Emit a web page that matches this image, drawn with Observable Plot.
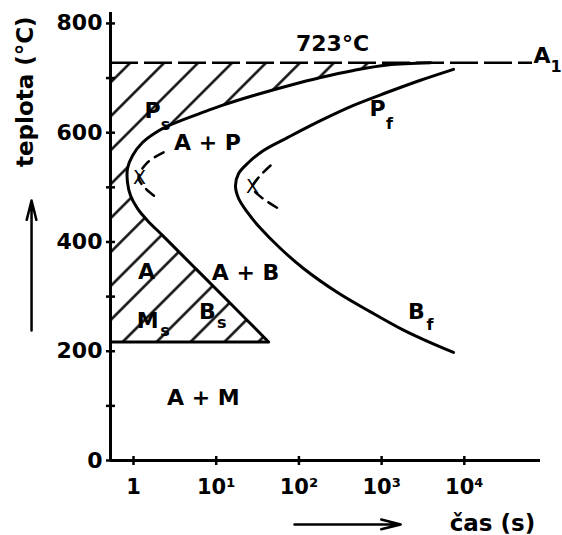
<!DOCTYPE html>
<html><head><meta charset="utf-8">
<script src="https://cdn.jsdelivr.net/npm/d3@7"></script>
<script src="https://cdn.jsdelivr.net/npm/@observablehq/plot@0.6"></script>
<style>body{margin:0;background:#fff}svg{display:block}</style>
</head><body><div id="chart"></div>
<script>
// ---- data (time in s, temperature in °C) ----
const XMIN = 0.527, XMAX = 83400, YMAX = 820;
const A1 = 728;          // eutectoid line (labelled 723 °C)
const A1_END = 66800;
const MS = 217;          // martensite start
const MS_END = 43;
const xTicks = [1, 10, 100, 1000, 10000];
const xTickLabels = ["1", "10¹", "10²", "10³", "10⁴"];
const yTicks = [0, 200, 400, 600, 800];
const yTickMarks = [0, 100, 200, 300, 400, 500, 600, 700, 800];

// transformation start curve (Ps / Bs), from the bottom tip up to A1
const startT = [43, 12.96, 5.17, 2.24, 1.48, 1.12, 0.92, 0.846, 0.846, 0.972, 1.285, 1.845, 2.96, 7.42, 11.3, 28.3, 72.8, 182.5, 457, 1178, 3900];
const startC = [217, 296.5, 357, 412, 439, 461, 485, 509, 534.5, 558, 582, 600, 616, 639, 649, 668, 685.5, 701, 714, 724, 728];
// transformation finish curve (Pf / Bf)
const endT = [7400, 2953, 1178, 457, 182.5, 72.8, 37.3, 24.6, 18.6, 17.1, 18.6, 23.9, 34.3, 59.9, 113.7, 293, 734, 1840, 3590, 7400];
const endC = [716, 696, 674, 650, 622, 591, 567.5, 545.5, 525, 503, 480, 454, 425, 388, 351.5, 307.5, 272, 238.5, 218, 197.7];
// 50 % transformation arcs
const halfLT = [2.31, 1.48, 1.15, 1.40, 1.95];
const halfLC = [564, 545.5, 518, 498, 480];
const halfRT = [45.4, 32.5, 27.5, 34.3, 56.7];
const halfRC = [540, 518, 500, 483, 461];

// labels (data coordinates)
const mainLabels = [
  {text: "723°C", t: 255, c: 763},
  {text: "A", t: 87000, c: 741},
  {text: "P", t: 1.70, c: 639},
  {text: "A + P", t: 7.85, c: 582},
  {text: "P", t: 891, c: 643},
  {text: "A", t: 1.44, c: 346},
  {text: "A + B", t: 22.6, c: 344},
  {text: "M", t: 1.48, c: 256},
  {text: "B", t: 7.85, c: 271},
  {text: "B", t: 2640, c: 271},
  {text: "A + M", t: 7.0, c: 115}
];
const subLabels = [
  {text: "1", t: 129000, c: 721},
  {text: "s", t: 2.44, c: 615},
  {text: "f", t: 1245, c: 617},
  {text: "s", t: 2.40, c: 238},
  {text: "s", t: 11.7, c: 251},
  {text: "f", t: 3850, c: 249}
];
const crossLabels = [{text: "X", t: 1.18, c: 518}, {text: "X", t: 27.5, c: 500}];
const yTitle = {text: "teplota (°C)", t: 0.0494, c: 675};
const xTitle = {text: "čas (s)", t: 21900, c: -115};
const yArrow = {t: 0.0585, c1: 238, c2: 476};
const xArrow = {c: -117, t1: 88.5, t2: 1700};

// ---- build tables ----
const zip = (T, C) => T.map((t, i) => ({t, c: C[i]}));
const start = zip(startT, startC);
const finish = zip(endT, endC);
const halfL = zip(halfLT, halfLC);
const halfR = zip(halfRT, halfRC);

const FONT = "DejaVu Sans";
const hLine = {draw(ctx, size) { const r = Math.sqrt(size / Math.PI); ctx.moveTo(-r, 0); ctx.lineTo(r, 0); }};
const vLine = {draw(ctx, size) { const r = Math.sqrt(size / Math.PI); ctx.moveTo(0, -r); ctx.lineTo(0, r); }};
const textOpts = {x: "t", y: "c", text: "text", fontFamily: FONT, fontWeight: "bold", fill: "#000"};

const svg = Plot.plot({
  width: 562, height: 535,
  marginLeft: 110, marginRight: 22, marginTop: 12, marginBottom: 75,
  x: {type: "log", domain: [XMIN, XMAX]},
  y: {domain: [0, YMAX]},
  style: {fontFamily: FONT, background: "#fff", overflow: "visible"},
  marks: [
    Plot.areaX(start, {x1: XMIN, x2: "t", y: "c", curve: "catmull-rom", fill: "url(#hatch)"}),
    Plot.ruleX([XMIN], {y1: 0, y2: YMAX, stroke: "#000", strokeWidth: 3}),
    Plot.ruleY([0], {x1: XMIN, x2: XMAX, stroke: "#000", strokeWidth: 3}),
    Plot.dot(yTickMarks, {x: () => XMIN, y: d => d, symbol: hLine, r: 4.5, stroke: "#000", strokeWidth: 2.5}),
    Plot.dot(xTicks, {x: d => d, y: () => 0, symbol: vLine, r: 4.5, stroke: "#000", strokeWidth: 2.5}),
    Plot.axisY(yTicks, {tickSize: 0, tickPadding: 8, fontSize: 22, fontWeight: "bold", fontFamily: FONT, label: null}),
    Plot.axisX(xTicks, {tickSize: 0, tickPadding: 19, fontSize: 21, fontWeight: "bold", fontFamily: FONT, label: null,
      tickFormat: d => xTickLabels[xTicks.indexOf(d)]}),
    Plot.ruleY([A1], {x1: XMIN, x2: A1_END, stroke: "#000", strokeWidth: 2.5, strokeDasharray: "28,6"}),
    Plot.ruleY([MS], {x1: XMIN, x2: MS_END, stroke: "#000", strokeWidth: 3}),
    Plot.line(start, {x: "t", y: "c", curve: "catmull-rom", stroke: "#000", strokeWidth: 3}),
    Plot.line(finish, {x: "t", y: "c", curve: "catmull-rom", stroke: "#000", strokeWidth: 3}),
    Plot.line(halfL, {x: "t", y: "c", curve: "catmull-rom", stroke: "#000", strokeWidth: 2.5, strokeDasharray: "10,7"}),
    Plot.line(halfR, {x: "t", y: "c", curve: "catmull-rom", stroke: "#000", strokeWidth: 2.5, strokeDasharray: "10,7"}),
    Plot.text(crossLabels, {...textOpts, fontWeight: "normal", fontSize: 19}),
    Plot.text(mainLabels, {...textOpts, fontSize: 22}),
    Plot.text(subLabels, {...textOpts, fontSize: 16}),
    Plot.text([yTitle], {...textOpts, fontSize: 23, rotate: -90}),
    Plot.text([xTitle], {...textOpts, fontSize: 23}),
    Plot.arrow([yArrow], {x1: "t", x2: "t", y1: "c1", y2: "c2", stroke: "#000", strokeWidth: 2.5, headLength: 12, headAngle: 28}),
    Plot.arrow([xArrow], {x1: "t1", x2: "t2", y1: "c", y2: "c", stroke: "#000", strokeWidth: 2.5, headLength: 12, headAngle: 28})
  ]
});
d3.select(svg).insert("defs", ":first-child").html(
  '<pattern id="hatch" patternUnits="userSpaceOnUse" width="24" height="24" patternTransform="rotate(45)">' +
  '<line x1="16.5" y1="-1" x2="16.5" y2="25" stroke="#000" stroke-width="2.4"/></pattern>');
document.getElementById("chart").appendChild(svg);
</script>
</body></html>
